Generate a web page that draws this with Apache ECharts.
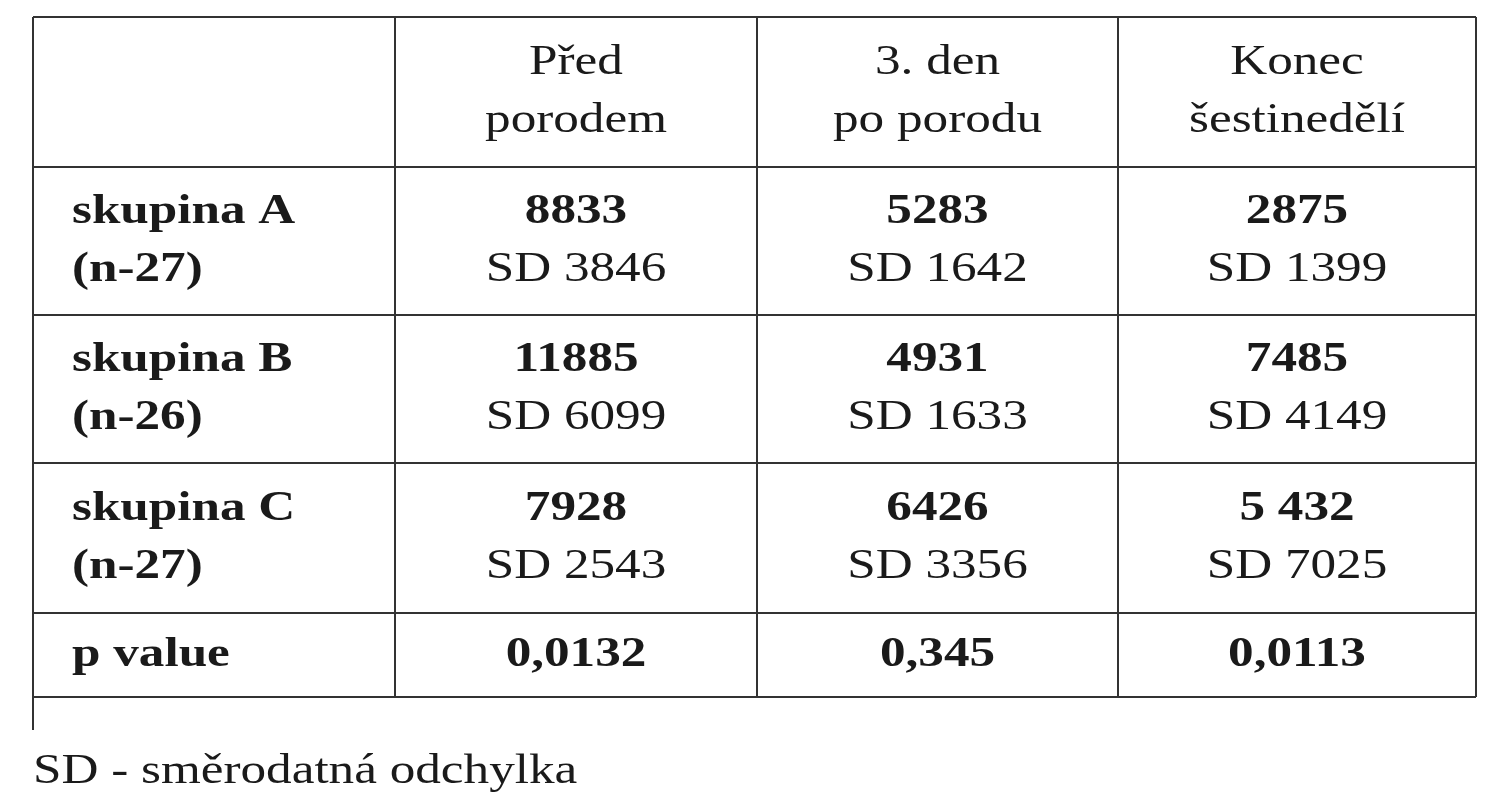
<!DOCTYPE html>
<html><head><meta charset="utf-8">
<script src="https://cdn.jsdelivr.net/npm/echarts@6/dist/echarts.min.js"></script>
<style>html,body{margin:0;background:#fff}#c{width:1505px;height:800px}</style>
</head><body><div id="c"></div>
<script>
var headers = [["Před","porodem"],["3. den","po porodu"],["Konec","šestinedělí"]];
var rowLabels = [["skupina A","(n-27)"],["skupina B","(n-26)"],["skupina C","(n-27)"]];
var means = [["8833","5283","2875"],["11885","4931","7485"],["7928","6426","5 432"]];
var sds = [["SD 3846","SD 1642","SD 1399"],["SD 6099","SD 1633","SD 4149"],["SD 2543","SD 3356","SD 7025"]];
var pLabel = "p value";
var pValues = ["0,0132","0,345","0,0113"];
var footnote = "SD - směrodatná odchylka";

var colX = [33,395,757,1118,1476];
var rowY = [17,167,315,463,613,697];
var font = "'Liberation Serif','DejaVu Serif',serif";
var fs = 43, col = '#1a1a1a', gap = 29, sx = 1.19;
var els = [];
function line(x1,y1,x2,y2){els.push({type:'line',shape:{x1:x1,y1:y1,x2:x2,y2:y2},style:{stroke:'#333',lineWidth:2}});}
function txt(s,x,y,bold,align){els.push({type:'text',x:x,y:y,scaleX:sx,style:{text:s,font:(bold?'bold ':'')+fs+'px '+font,fill:col,align:align||'center',verticalAlign:'middle'}});}
rowY.forEach(function(y){line(colX[0],y,colX[4],y);});
colX.forEach(function(x,i){line(x,rowY[0],x,(i==0)?730:rowY[5]);});
function cx(j){return (colX[j+1]+colX[j+2])/2;}
function cy(r){return (rowY[r]+rowY[r+1])/2;}
headers.forEach(function(h,j){txt(h[0],cx(j),cy(0)-gap);txt(h[1],cx(j),cy(0)+gap);});
rowLabels.forEach(function(l,i){
  txt(l[0],72,cy(i+1)-gap,true,'left');txt(l[1],72,cy(i+1)+gap,true,'left');
  for(var j=0;j<3;j++){txt(means[i][j],cx(j),cy(i+1)-gap,true);txt(sds[i][j],cx(j),cy(i+1)+gap);}
});
txt(pLabel,72,cy(4),true,'left');
pValues.forEach(function(p,j){txt(p,cx(j),cy(4),true);});
txt(footnote,33,772,false,'left');
var chart = echarts.init(document.getElementById('c'));
chart.setOption({graphic:{elements:els}});
</script></body></html>
